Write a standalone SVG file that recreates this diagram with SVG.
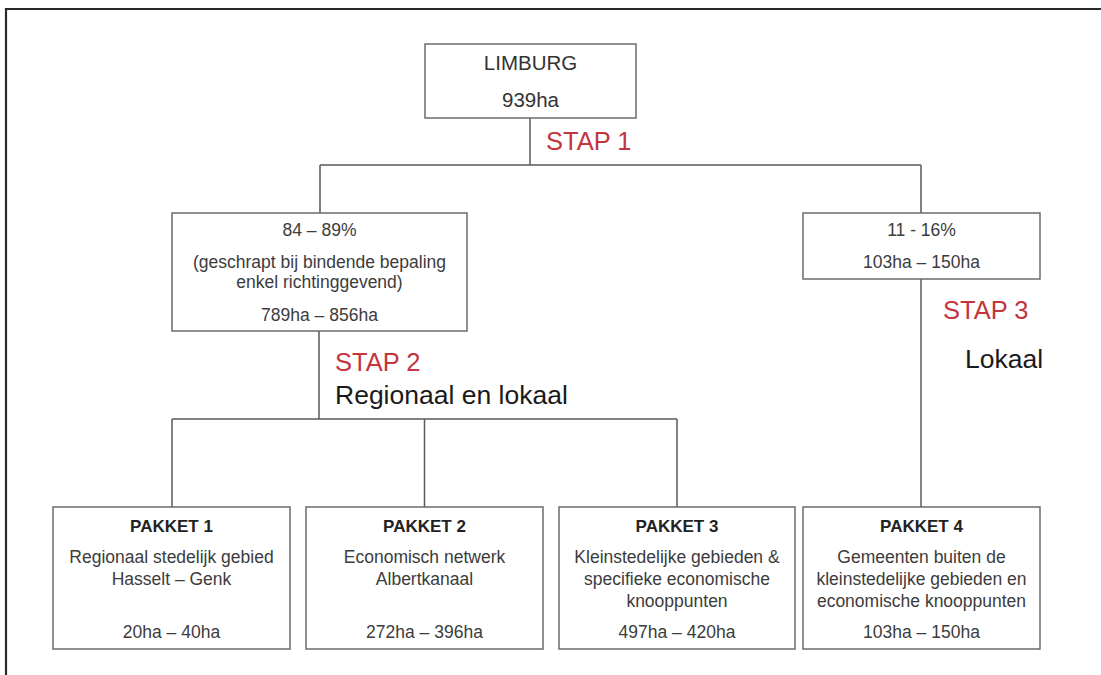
<svg xmlns="http://www.w3.org/2000/svg" width="1101" height="675" viewBox="0 0 1101 675">
<style>
.box{fill:#fff;stroke:#6b6b6b;stroke-width:1.5}
.ln{fill:none;stroke:#5a5a5a;stroke-width:1.5}
.t{font-family:"Liberation Sans",Arial,sans-serif;font-size:17.5px;fill:#3c3c3c;text-anchor:middle}
.tb{font-family:"Liberation Sans",Arial,sans-serif;font-size:17px;font-weight:bold;fill:#222;text-anchor:middle}
.big{font-family:"Liberation Sans",Arial,sans-serif;font-size:20.5px;fill:#333;text-anchor:middle}
.red{font-family:"Liberation Sans",Arial,sans-serif;font-size:25.5px;fill:#c4353d}
.blk{font-family:"Liberation Sans",Arial,sans-serif;font-size:26.5px;fill:#1a1a1a}
</style>
<rect width="1101" height="675" fill="#fff"/>
<path d="M6,675 V9 H1101" fill="none" stroke="#2a2a2a" stroke-width="2.2"/>
<g id="connectors">
<path class="ln" d="M530,118 V165 M320,165 H921 M320,165 V213 M921,165 V213"/>
<path class="ln" d="M319,331 V419 M172,419 H677 M172,419 V507 M424.5,419 V507 M677,419 V507"/>
<path class="ln" d="M921,279 V507"/>
</g>
<g id="limburg">
<rect class="box" x="425" y="44" width="211" height="74"/>
<text class="big" x="530.5" y="70">LIMBURG</text>
<text class="big" x="530.5" y="107">939ha</text>
</g>
<g id="stap1"><text class="red" x="546" y="150">STAP 1</text></g>
<g id="regionaal">
<rect class="box" x="172" y="213" width="295" height="118"/>
<text class="t" x="319.5" y="236">84 – 89%</text>
<text class="t" x="319.5" y="268">(geschrapt bij bindende bepaling</text>
<text class="t" x="319.5" y="288">enkel richtinggevend)</text>
<text class="t" x="319.5" y="321">789ha – 856ha</text>
</g>
<g id="lokaal">
<rect class="box" x="803" y="213" width="237" height="66"/>
<text class="t" x="921.5" y="236">11 - 16%</text>
<text class="t" x="921.5" y="268">103ha – 150ha</text>
</g>
<g id="stap2">
<text class="red" x="335" y="371">STAP 2</text>
<text class="blk" x="335" y="404">Regionaal en lokaal</text>
</g>
<g id="stap3">
<text class="red" x="943" y="319">STAP 3</text>
<text class="blk" x="965" y="368">Lokaal</text>
</g>
<g id="pakket1">
<rect class="box" x="53" y="507" width="237" height="142"/>
<text class="tb" x="171.5" y="532">PAKKET 1</text>
<text class="t" x="171.5" y="563">Regionaal stedelijk gebied</text>
<text class="t" x="171.5" y="585">Hasselt – Genk</text>
<text class="t" x="171.5" y="638">20ha – 40ha</text>
</g>
<g id="pakket2">
<rect class="box" x="306" y="507" width="237" height="142"/>
<text class="tb" x="424.5" y="532">PAKKET 2</text>
<text class="t" x="424.5" y="563">Economisch netwerk</text>
<text class="t" x="424.5" y="585">Albertkanaal</text>
<text class="t" x="424.5" y="638">272ha – 396ha</text>
</g>
<g id="pakket3">
<rect class="box" x="559" y="507" width="236" height="142"/>
<text class="tb" x="677" y="532">PAKKET 3</text>
<text class="t" x="677" y="563">Kleinstedelijke gebieden &amp;</text>
<text class="t" x="677" y="585">specifieke economische</text>
<text class="t" x="677" y="607">knooppunten</text>
<text class="t" x="677" y="638">497ha – 420ha</text>
</g>
<g id="pakket4">
<rect class="box" x="803" y="507" width="237" height="142"/>
<text class="tb" x="921.5" y="532">PAKKET 4</text>
<text class="t" x="921.5" y="563">Gemeenten buiten de</text>
<text class="t" x="921.5" y="585">kleinstedelijke gebieden en</text>
<text class="t" x="921.5" y="607">economische knooppunten</text>
<text class="t" x="921.5" y="638">103ha – 150ha</text>
</g>
</svg>
